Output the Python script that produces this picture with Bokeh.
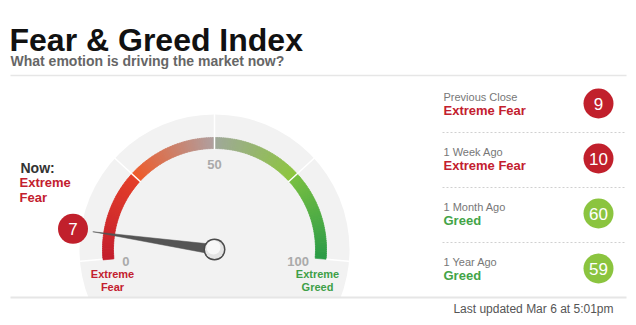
import math
import numpy as np
from bokeh.plotting import figure
from bokeh.models import Range1d, ColumnDataSource
from bokeh.core.properties import value
from bokeh.embed import file_html
from bokeh.resources import INLINE

# ---------------- data ----------------
title = "Fear & Greed Index"
subtitle = "What emotion is driving the market now?"
now_value = 7
now_label = ["Extreme", "Fear"]
hist_periods = ["Previous Close", "1 Week Ago", "1 Month Ago", "1 Year Ago"]
hist_values = [9, 10, 60, 59]
hist_labels = ["Extreme Fear", "Extreme Fear", "Greed", "Greed"]
scale_ticks = [0, 50, 100]
zone_bounds = [0, 25, 50, 75, 100]
end_labels_left = ["Extreme", "Fear"]
end_labels_right = ["Extreme", "Greed"]
updated = "Last updated Mar 6 at 5:01pm"

# ---------------- styling ----------------
W, H = 636, 325
FONT = value("Liberation Sans")
RED = "#c3202e"
GREEN = "#3e9f47"
CIRCLE_RED = "#c1202c"
CIRCLE_GREEN = "#8bc43f"


def Y(ypx):
    return H - ypx


p = figure(width=W, height=H, x_range=Range1d(0, W), y_range=Range1d(0, H),
           output_backend="svg", toolbar_location=None, min_border=0,
           x_axis_type=None, y_axis_type=None)
p.grid.visible = False
p.outline_line_color = None
p.background_fill_color = "white"
p.border_fill_color = "white"

cx, cy = 214, Y(249)
A0, SWEEP = 185.0, 190.0


def ang(v):
    return math.radians(A0 - SWEEP * v / 100.0)


# gray disk
p.circle(x=[cx], y=[cy], radius=135, fill_color="#f2f2f2", line_color=None)
# clip below bottom line
p.quad(left=[0], right=[W], bottom=[0], top=[Y(297)], fill_color="white", line_color=None)

# colored arc gradient
stops = [
    (0, (196, 30, 46)), (25, (228, 64, 42)),
    (25.001, (240, 90, 40)), (50, (176, 160, 160)),
    (50.001, (160, 168, 156)), (75, (141, 198, 63)),
    (75.001, (122, 192, 66)), (100, (44, 156, 72)),
]
sv = np.array([s[0] for s in stops])
sc = np.array([s[1] for s in stops], dtype=float)
N = 200
vs = np.linspace(0, 100, N + 1)
mids = (vs[:-1] + vs[1:]) / 2
cols = []
for m in mids:
    r = np.interp(m, sv, sc[:, 0]); g = np.interp(m, sv, sc[:, 1]); b = np.interp(m, sv, sc[:, 2])
    cols.append("#%02x%02x%02x" % (int(r), int(g), int(b)))
starts = [ang(v) for v in vs[1:]]
ends = [ang(v) + 0.006 for v in vs[:-1]]
p.annular_wedge(x=cx, y=cy, inner_radius=101, outer_radius=112,
                start_angle=starts, end_angle=ends,
                fill_color=cols, line_color=cols, line_width=0.6)

# white dividers
for v in zone_bounds:
    a = ang(v)
    r0 = 100 if v in (25, 50, 75) else 112.5
    p.segment(x0=cx + r0 * math.cos(a), y0=cy + r0 * math.sin(a),
              x1=cx + 137 * math.cos(a), y1=cy + 137 * math.sin(a),
              line_color="white", line_width=1.5)

# tick labels
for t in scale_ticks:
    a = ang(t)
    r = 89
    p.text(x=[cx + r * math.cos(a) - (5 if t == 100 else 0)], y=[cy + r * math.sin(a) - 4], text=[str(t)],
           text_font=FONT, text_font_style="bold", text_font_size="13px",
           text_color="#aaaaaa", text_align="center", text_baseline="middle")

# end labels
for i, (l, rr) in enumerate(zip(end_labels_left, end_labels_right)):
    p.text(x=[112], y=[Y(273 + 13 * i)], text=[l], text_font=FONT, text_font_style="bold",
           text_font_size="11px", text_color=RED, text_align="center", text_baseline="middle")
    p.text(x=[317], y=[Y(273 + 13 * i)], text=[rr], text_font=FONT, text_font_style="bold",
           text_font_size="11px", text_color=GREEN, text_align="center", text_baseline="middle")

# needle
a = ang(now_value)
tip = 123
hw = 5
px_ = [cx + tip * math.cos(a), cx + hw * math.cos(a - math.pi / 2), cx + hw * math.cos(a + math.pi / 2)]
py_ = [cy + tip * math.sin(a), cy + hw * math.sin(a - math.pi / 2), cy + hw * math.sin(a + math.pi / 2)]
p.patch(x=px_, y=py_, fill_color="#555555", line_color="#555555", line_width=0.5)

# knob
p.circle(x=[cx], y=[cy], radius=11, fill_color="#4a4a4a", line_color=None)
p.circle(x=[cx], y=[cy], radius=9.5, fill_color="#e4e4e4", line_color=None)
p.circle(x=[cx - 1], y=[cy + 2], radius=7, fill_color="#f8f8f8", line_color=None)

# value bubble
rb = 143
bx, by = cx + rb * math.cos(a), cy + rb * math.sin(a)
p.circle(x=[bx], y=[by], radius=15, fill_color=CIRCLE_RED, line_color=None)
p.text(x=[bx], y=[by], text=[str(now_value)], text_font=FONT, text_font_size="17px",
       text_color="white", text_align="center", text_baseline="middle")

# Now label
p.text(x=[20], y=[Y(167)], text=["Now:"], text_font=FONT, text_font_style="bold",
       text_font_size="14px", text_color="#333333", text_baseline="middle")
for i, l in enumerate(now_label):
    p.text(x=[19], y=[Y(182 + 15 * i)], text=[l], text_font=FONT, text_font_style="bold",
           text_font_size="13px", text_color=RED, text_baseline="middle")

# title
p.text(x=[9], y=[Y(39)], text=[title], text_font=FONT, text_font_style="bold",
       text_font_size="32px", text_color="#111111", text_baseline="alphabetic")
p.text(x=[10], y=[Y(60)], text=[subtitle], text_font=FONT, text_font_style="bold",
       text_font_size="14px", text_color="#666666", text_baseline="alphabetic")

# rules
p.segment(x0=[10], y0=[Y(75)], x1=[626], y1=[Y(75)], line_color="#e6e6e6", line_width=1.5)
p.segment(x0=[10], y0=[Y(297)], x1=[626], y1=[Y(297)], line_color="#e6e6e6", line_width=2)

# history panel
row0, dy = 103, 55
hcols = [CIRCLE_RED if v < 25 else CIRCLE_GREEN for v in hist_values]
tcols = [RED if v < 25 else "#43a447" for v in hist_values]
src = ColumnDataSource(dict(
    cxs=[598] * 4, cys=[Y(row0 + dy * i) for i in range(4)],
    ly=[Y(row0 - 7 + dy * i) for i in range(4)],
    sy=[Y(row0 + 7 + dy * i) for i in range(4)],
    per=hist_periods, lab=hist_labels, val=[str(v) for v in hist_values],
    hc=hcols, tc=tcols))
p.circle(x="cxs", y="cys", radius=15, fill_color="hc", line_color=None, source=src)
p.text(x="cxs", y="cys", text="val", text_font=FONT, text_font_size="17px", text_color="white",
       text_align="center", text_baseline="middle", source=src)
p.text(x=443, y="ly", text="per", text_font=FONT, text_font_size="11px", text_color="#777777",
       text_baseline="middle", source=src)
p.text(x=443, y="sy", text="lab", text_font=FONT, text_font_style="bold", text_font_size="13px",
       text_color="tc", text_baseline="middle", source=src)
for i in range(3):
    yy = Y(row0 + 29 + dy * i)
    p.segment(x0=[442], y0=[yy], x1=[624], y1=[yy], line_color="#d0d0d0", line_width=1, line_dash="2 2")

p.text(x=[613], y=[Y(308)], text=[updated], text_font=FONT, text_font_size="12px",
       text_color="#555555", text_align="right", text_baseline="middle")

open("out.html", "w").write(file_html(p, INLINE))
